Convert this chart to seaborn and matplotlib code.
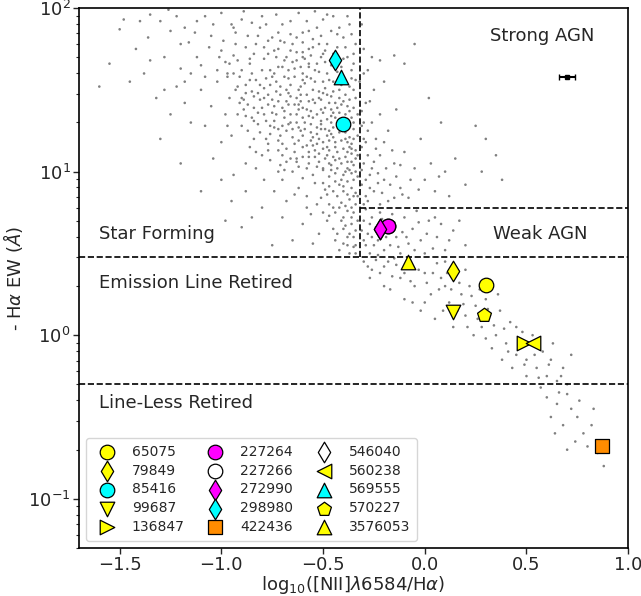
import matplotlib
matplotlib.use("Agg")
import matplotlib.pyplot as plt
import seaborn as sns
import numpy as np
import pandas as pd

# ---------------- background sample (x = log10 [NII]/Ha, y = log10 EW) ----------------
bg_pts = [
(-0.62,1.41),(-0.55,1.33),(-0.71,1.52),(-0.48,1.22),(-0.58,1.47),(-0.44,1.18),(-0.67,1.29),(-0.52,1.61),(-0.39,1.09),(-0.75,1.44),
(-0.61,1.25),(-0.46,1.38),(-0.83,1.56),(-0.57,1.12),(-0.42,1.45),(-0.69,1.37),(-0.51,1.29),(-0.64,1.63),(-0.37,1.21),(-0.78,1.31),
(-0.59,1.54),(-0.47,1.05),(-0.72,1.19),(-0.54,1.42),(-0.41,1.31),(-0.88,1.48),(-0.63,1.08),(-0.49,1.51),(-0.36,1.14),(-0.66,1.46),
(-0.53,1.17),(-0.8,1.39),(-0.45,1.27),(-0.6,1.33),(-0.38,1.02),(-0.74,1.6),(-0.56,1.24),(-0.43,1.39),(-0.68,1.14),(-0.5,1.36),
(-0.91,1.42),(-0.62,1.5),(-0.47,1.13),(-0.35,1.26),(-0.7,1.28),(-0.57,1.66),(-0.44,1.07),(-0.77,1.47),(-0.52,1.2),(-0.4,1.43),
(-0.65,1.21),(-0.55,1.5),(-0.85,1.33),(-0.48,1.32),(-0.36,1.17),(-0.61,1.43),(-0.73,1.35),(-0.5,1.01),(-0.42,1.24),(-0.59,1.3),
(-0.69,1.58),(-0.46,1.46),(-0.34,1.08),(-0.81,1.24),(-0.54,1.09),(-0.63,1.35),(-0.39,1.35),(-0.76,1.53),(-0.51,1.44),(-0.58,1.16),
(-0.45,1.55),(-0.67,1.41),(-0.37,1.29),(-0.87,1.41),(-0.53,1.27),(-0.6,1.6),(-0.43,1.12),(-0.72,1.26),(-0.49,1.39),(-0.35,1.04),
(-0.64,1.17),(-0.56,1.37),(-0.79,1.45),(-0.41,1.19),(-0.66,1.3),(-0.5,1.55),(-0.38,1.4),(-0.7,1.1),(-0.55,1.21),(-0.93,1.5),
(-0.46,1.23),(-0.62,1.27),(-0.4,0.98),(-0.74,1.4),(-0.52,1.49),(-0.57,1.05),(-0.44,1.33),(-0.68,1.5),(-0.36,1.33),(-0.82,1.36),
(-0.48,1.15),(-0.6,1.39),
(-1.05,1.83),(-0.95,1.9),(-0.88,1.76),(-0.8,1.95),(-0.72,1.85),(-0.65,1.78),(-0.58,1.92),(-0.5,1.72),(-0.46,1.86),(-1.12,1.7),
(-0.98,1.67),(-0.9,1.62),(-0.84,1.72),(-0.77,1.8),(-0.68,1.7),(-0.62,1.97),(-0.55,1.81),(-0.49,1.67),(-1.2,1.78),(-1.0,1.74),
(-0.93,1.85),(-0.86,1.66),(-0.74,1.74),(-0.7,1.9),(-0.6,1.73),(-0.53,1.88),(-0.43,1.76),(-1.08,1.95),(-1.15,1.6),(-0.97,1.58),
(-0.82,1.83),(-0.66,1.84),(-0.57,1.64),(-0.41,1.64),(-1.25,1.86),(-1.3,1.92),(-0.89,1.98),(-0.76,1.62),(-0.63,1.68),(-0.52,1.78),
(-0.45,1.95),(-0.38,1.7),(-0.4,1.82),(-1.02,1.62),(-0.94,1.71),(-0.79,1.69),(-0.7,1.64),(-0.6,1.85),(-0.48,1.6),(-0.36,1.57),
(-0.37,1.9),(-1.18,1.88),(-0.85,1.91),(-0.73,1.96),(-0.64,1.58),(-0.56,1.71),(-0.5,1.93),
(-1.5,1.87),(-1.42,1.75),(-1.35,1.96),(-1.55,1.66),(-1.38,1.6),(-1.28,1.7),(-1.22,1.52),(-1.32,1.45),(-1.45,1.55),(-1.18,1.42),
(-1.1,1.5),(-1.25,1.35),(-1.6,1.52),(-1.4,1.92),(-1.15,1.3),(-1.05,1.4),(-1.2,1.63),(-1.08,1.28),(-1.3,1.2),(-1.02,1.55),
(-1.13,1.85),(-1.48,1.93),(-1.26,1.99),(-1.36,1.82),
(-0.98,1.35),(-0.95,1.22),(-0.9,1.28),(-0.86,1.15),(-0.92,1.52),(-0.84,1.46),(-0.8,1.1),(-0.78,1.2),(-0.96,1.45),(-0.88,1.05),
(-1.0,1.18),(-0.83,1.02),(-0.76,1.07),(-0.94,0.98),(-1.04,1.08),(-0.89,1.38),(-0.81,1.53),(-0.97,1.6),(-0.87,1.25),(-0.79,0.95),
(-0.7,0.95),(-0.62,0.9),(-0.55,0.98),(-0.48,0.86),(-0.42,0.92),(-0.37,0.83),(-0.65,1.0),(-0.58,0.85),(-0.5,0.93),(-0.45,0.78),
(-0.4,0.88),(-0.35,0.95),(-0.68,0.82),(-0.53,0.8),(-0.44,0.99),(-0.38,0.76),(-0.34,0.87),(-0.6,0.96),(-0.47,0.91),(-0.41,0.81),
(-0.74,0.88),(-0.56,0.74),(-0.36,0.99),(-0.5,1.02),
(-0.4,0.72),(-0.36,0.68),(-0.45,0.65),(-0.38,0.6),(-0.34,0.55),(-0.42,0.52),(-0.35,0.75),(-0.48,0.7),(-0.37,0.5),(-0.52,0.62),
(-0.6,0.68),(-0.44,0.58),(-0.34,0.64),(-0.39,0.79),(-0.55,0.56),(-0.7,0.72),(-0.65,0.58),(-0.8,0.78),(-0.9,0.66),(-0.75,0.55),
(-1.0,0.95),(-0.95,0.82),(-1.1,0.88),(-0.85,0.72),(-0.98,0.7),(-1.2,1.05),(-0.88,0.88),
(-0.3,1.75),(-0.28,1.62),(-0.25,1.5),(-0.22,1.68),(-0.2,1.55),(-0.15,1.71),(-0.1,1.66),(-0.05,1.78),(-0.29,1.42),(-0.26,1.3),
(-0.24,1.2),(-0.31,1.15),(-0.3,1.05),(-0.27,0.98),(-0.22,1.1),(-0.18,1.25),(-0.2,0.95),(-0.15,1.05),(-0.12,0.9),(-0.25,0.88),
(-0.29,0.85),(-0.31,0.92),(-0.18,0.82),(-0.1,1.12),(-0.05,1.02),(0.0,0.95),(0.05,0.88),(-0.02,1.2),(0.1,1.0),(0.12,0.85),
(0.15,1.08),(0.2,0.92),(0.08,1.3),(-0.14,1.38),(0.02,1.45),(0.25,1.28),(0.3,1.2),(0.38,0.95),(-0.08,0.84),(-0.3,1.3),
(-0.32,1.55),(-0.31,1.9),(0.28,1.0),(0.35,1.1),(-0.28,1.1),(-0.26,1.02),(-0.23,0.93),(-0.3,0.8),
(-0.3,0.7),(-0.28,0.62),(-0.25,0.55),(-0.22,0.75),(-0.18,0.68),(-0.14,0.6),(-0.1,0.72),(-0.06,0.65),(-0.02,0.58),(0.02,0.7),
(0.06,0.6),(0.1,0.52),(-0.27,0.5),(-0.2,0.52),(-0.12,0.5),(-0.3,0.58),(-0.24,0.66),(-0.16,0.74),(-0.08,0.56),(0.0,0.5),
(0.14,0.64),(0.2,0.55),(-0.26,0.72),(-0.19,0.6),(-0.04,0.76),(0.04,0.53),(-0.29,0.77),(-0.11,0.63),(-0.23,0.49),(0.08,0.68),
(-0.28,0.42),(-0.22,0.38),(-0.18,0.45),(-0.12,0.35),(-0.08,0.42),(-0.05,0.3),(0.0,0.38),(0.03,0.25),(0.06,0.44),(0.1,0.3),
(0.12,0.2),(0.15,0.36),(0.18,0.25),(0.2,0.12),(0.22,0.3),(0.25,0.18),(0.28,0.05),(0.3,0.22),(0.32,0.12),(0.35,0.0),
(0.37,0.15),(0.4,-0.05),(0.42,0.08),(0.45,-0.12),(0.48,0.02),(0.5,-0.15),(0.52,-0.05),(0.55,-0.2),(0.58,-0.1),(0.6,-0.25),
(0.62,-0.15),(0.65,-0.28),(0.68,-0.2),(0.7,-0.3),(-0.2,0.3),(-0.1,0.22),(-0.02,0.15),(0.05,0.1),(0.08,0.35),(0.14,0.05),
(0.24,0.0),(0.33,-0.08),(0.38,-0.15),(0.45,0.05),(0.5,-0.25),(0.57,-0.32),(0.63,-0.05),(0.72,-0.12),(0.2,0.4),(0.1,0.45),
(-0.15,0.47),(0.27,0.28),(0.36,0.25),(0.16,0.15),(-0.06,0.2),(0.43,-0.2),(0.53,0.0),(0.66,-0.35),
(0.6,-0.38),(0.65,-0.42),(0.7,-0.36),(0.62,-0.5),(0.72,-0.45),(0.68,-0.55),(0.75,-0.5),(0.78,-0.6),(0.8,-0.68),(0.85,-0.72),
(0.82,-0.55),(0.74,-0.65),(0.88,-0.8),(0.7,-0.7),(0.64,-0.6),(0.76,-0.4),(0.83,-0.45),
(-0.58,1.38),(-0.51,1.26),(-0.44,1.15),(-0.39,1.24),(-0.36,1.11),(-0.47,1.42),(-0.63,1.45),(-0.55,1.16),(-0.41,1.05),(-0.38,1.18),
(-0.49,1.08),(-0.53,1.35),(-0.6,1.22),(-0.66,1.35),(-0.72,1.43),(-0.45,1.36),(-0.4,1.28),(-0.35,1.2),(-0.43,1.02),(-0.5,1.18),
(-0.56,1.29),(-0.62,1.19),(-0.68,1.25),(-0.74,1.31),(-0.48,1.47),(-0.42,1.5),(-0.37,1.37),(-0.34,1.13),(-0.52,1.11),(-0.58,1.02),
(-0.64,1.12),(-0.7,1.17),(-0.76,1.23),(-0.46,1.01),(-0.4,1.14),(-0.36,1.06),(-0.54,1.55),(-0.6,1.56),(-0.66,1.53),(-0.71,1.47),
(-0.44,1.42),(-0.39,1.47),(-0.35,1.39),(-0.47,1.19),(-0.51,1.38),(-0.57,1.43),(-0.63,1.3),(-0.69,1.33),(-0.75,1.36),(-0.81,1.44),
(-0.43,1.28),(-0.38,1.06),(-0.34,1.0),(-0.49,1.26),(-0.55,1.44),(-0.61,1.47),(-0.67,1.57),(-0.73,1.49),(-0.79,1.51),(-0.85,1.49),
(-0.42,1.36),(-0.37,1.15),(-0.45,1.09),(-0.5,1.14),(-0.56,1.19),(-0.62,1.03),(-0.68,1.06),(-0.53,1.03),(-0.47,0.97),(-0.41,0.95),
(-0.36,0.9),(-0.39,1.0),(-0.44,0.94),(-0.35,1.3),(-0.46,1.3),(-0.52,1.45),(-0.58,1.58),(-0.64,1.41),(-0.7,1.39),(-0.76,1.28),
(-0.82,1.29),(-0.88,1.34),(-0.9,1.45),(-0.84,1.39),(-0.78,1.57),(-0.72,1.64),(-0.65,1.67),(-0.59,1.69),(-0.53,1.66),(-0.47,1.56),
(-0.41,1.58),(-0.37,1.52),(-0.34,1.45),(-0.43,1.61),(-0.49,1.74),(-0.55,1.76),(-0.61,1.64),(-0.67,1.62),(-0.73,1.7),(-0.79,1.76),
(-0.85,1.6),(-0.91,1.58),(-0.96,1.66),(-1.01,1.7),(-0.93,1.78),(-0.87,1.83),(-0.81,1.88),(-0.75,1.82),(-0.69,1.79),(-0.63,1.82),
(-0.57,1.86),(-0.51,1.83),(-0.45,1.72),(-0.39,1.76),(-0.35,1.66),(-0.42,1.88),(-0.48,1.96),(-0.54,1.98),(-0.66,1.92),(-0.78,1.9),
(-0.9,1.93),(-0.99,1.8),(-1.06,1.76),(-1.1,1.65),(-1.04,1.9),(-1.16,1.79),(-0.86,1.56),(-0.92,1.35),(-0.97,1.28),(-0.84,1.2),
(-0.77,1.13),(-0.71,1.04),(-0.6,1.09),(-0.54,0.93),(-0.49,0.89),(-0.43,0.85),(-0.38,0.94),(-0.34,0.8),(-0.36,0.72),(-0.4,0.65),
(-0.47,0.8),(-0.58,0.78),(-0.64,0.86),(-0.72,1.0),(-0.35,0.6),(-0.38,0.55),(-0.41,0.7),(-0.44,0.75),(-0.5,0.75),(-0.34,0.5),
(-1.0,1.97),(-0.94,1.88),(-1.12,1.92),(-1.22,1.95),(-1.08,1.58),(-1.18,1.55),(-1.28,1.5),(-1.35,1.68),(-0.72,1.75),(-0.6,1.79),
(-0.86,1.69),(-0.8,1.62),(-0.75,1.58),(-0.69,1.68),(-0.63,1.73),(-0.57,1.75),(-0.51,1.7),(-0.46,1.65),(-0.4,1.69),(-0.36,1.62),
(-0.83,1.78),(-0.77,1.72),(-0.71,1.8),(-0.66,1.74),(-0.6,1.7),(-0.54,1.62),(-0.48,1.78),(-0.43,1.84),(-0.38,1.95),(-0.34,1.78),
(-0.92,1.68),(-0.88,1.53),(-0.82,1.48),(-0.77,1.41),(-0.73,1.55),(-0.67,1.48),(-0.61,1.52),(-0.56,1.57),(-0.5,1.48),(-0.45,1.49),
(-0.41,1.53),(-0.35,1.5),(-0.94,1.6),(-0.89,1.44),(-0.84,1.31),(-0.79,1.35),(-0.74,1.27),(-0.68,1.43),(-0.62,1.38),(-0.57,1.34),
(-0.51,1.31),(-0.46,1.34),(-0.41,1.41),(-0.37,1.44),(-0.33,1.35),(-0.33,1.22),(-0.33,1.1),(-0.33,0.97),(-0.33,0.85),(-0.33,0.7),
(-0.34,1.56),(-0.35,1.72),(-0.36,1.84),(-0.39,1.56),(-0.42,1.68),(-0.47,1.25),(-0.53,1.23),(-0.59,1.26),(-0.65,1.26),(-0.71,1.22),
(-0.77,1.17),(-0.83,1.12),(-0.48,1.1),(-0.54,1.13),(-0.6,1.15),(-0.66,1.08),(-0.72,1.13),(-0.45,1.21),(-0.39,1.2),(-0.38,1.12),
(-0.42,1.08),(-0.46,1.04),(-0.52,1.06),(-0.57,1.09),(-0.63,1.06),(-0.69,1.01),(-0.37,1.01),(-0.4,0.91),(-0.45,0.88),(-0.51,0.84),
(-0.35,0.85),(-0.38,0.86),(-0.42,0.78),(-0.47,0.73),(-0.36,0.78),(-0.39,0.67),(-0.43,0.62),(-0.37,0.62),(-0.35,0.54),(-0.4,0.56),
(-0.31,1.01),(-0.29,0.95),(-0.27,0.9),(-0.25,1.06),(-0.23,0.99),(-0.21,0.87),(-0.19,1.02),(-0.17,0.92),(-0.14,0.97),(-0.11,0.86),
(-0.3,1.2),(-0.28,1.25),(-0.24,1.14),(-0.2,1.18),(-0.16,1.13),(-0.12,1.04),(-0.07,0.95),(-0.03,0.89),(0.03,1.05),(0.07,0.97),
(-0.31,1.37),(-0.27,1.43),(-0.22,1.35),(-0.3,1.6),(-0.26,1.7),(-0.31,1.28),(-0.29,1.18),(-0.28,0.82),(-0.22,0.8),(-0.15,0.84),
(-0.31,0.64),(-0.29,0.55),(-0.27,0.68),(-0.26,0.6),(-0.23,0.58),(-0.21,0.71),(-0.17,0.55),(-0.15,0.69),(-0.13,0.54),(-0.09,0.6),
(-0.05,0.52),(-0.03,0.69),(0.01,0.62),(0.05,0.72),(0.12,0.58),(0.17,0.7),
(-0.3,0.45),(-0.26,0.4),(-0.24,0.46),(-0.2,0.42),(-0.16,0.36),(-0.14,0.43),(-0.1,0.38),(-0.07,0.33),(-0.03,0.4),(0.01,0.32),
(0.04,0.38),(0.07,0.28),(0.11,0.38),(0.13,0.28),(0.17,0.32),(0.19,0.19),(0.23,0.24),(0.26,0.1),(0.31,0.16),(0.34,0.06),
(0.39,0.04),(0.41,-0.1),(0.46,-0.06),(0.49,-0.18),(0.54,-0.12),(0.56,-0.26),(0.61,-0.18),(0.67,-0.25),(-0.27,0.35),(-0.17,0.28),
(0.0,0.2),(0.09,0.15),(0.21,0.05),(0.3,-0.02),
]
bg_x = [p[0] for p in bg_pts]
bg_logew = [p[1] for p in bg_pts]

# ---------------- highlighted galaxies ----------------
gal_ids = ["65075", "79849", "85416", "99687", "136847",
           "227264", "227266", "272990", "298980", "422436",
           "546040", "560238", "569555", "570227", "3576053"]
gal_x = [0.30, 0.14, -0.40, 0.14, 0.49,
         -0.18, -0.18, -0.22, -0.44, 0.87,
         -0.22, 0.53, -0.41, 0.29, -0.08]
gal_ew = [2.03, 2.47, 19.5, 1.38, 0.90,
          4.65, 4.65, 4.45, 48.0, 0.21,
          4.45, 0.90, 38.0, 1.32, 2.80]
gal_marker = ["o", "d", "o", "v", ">",
              "o", "o", "d", "d", "s",
              "d", "<", "^", "p", "^"]
gal_color = ["yellow", "yellow", "cyan", "yellow", "yellow",
             "magenta", "white", "magenta", "cyan", "darkorange",
             "white", "yellow", "cyan", "yellow", "yellow"]

# typical error bar
err_x, err_ew, err_dx = [0.70], [38.0], [0.04]

region_labels = ["Strong AGN", "Weak AGN", "Star Forming", "Emission Line Retired", "Line-Less Retired"]

sns.set_style("ticks")
plt.rcParams["font.family"] = ["DejaVu Sans"]
plt.rcParams["mathtext.fontset"] = "dejavusans"

fig = plt.figure(figsize=(6.41, 5.96), dpi=100)
ax = fig.add_axes([0.1232, 0.0805, 0.8568, 0.906])

bg = pd.DataFrame({"x": bg_x, "ew": [10 ** v for v in bg_logew]})
sns.scatterplot(data=bg, x="x", y="ew", ax=ax, s=3.5, color="grey", edgecolor="none",
                linewidth=0, legend=False, zorder=1)

# demarcation lines
vline_x = -0.32
ax.plot([vline_x, vline_x], [3, 100], ls="--", color="k", lw=1.2, zorder=2)
ax.plot([vline_x, 1.0], [6, 6], ls="--", color="k", lw=1.2, zorder=2)
ax.axhline(3, ls="--", color="k", lw=1.2, zorder=2)
ax.axhline(0.5, ls="--", color="k", lw=1.2, zorder=2)

ax.errorbar(err_x, err_ew, xerr=err_dx, fmt="s", color="k", ms=3, capsize=2, lw=1.5, zorder=3)

draw_order = [6, 10] + [i for i in range(len(gal_ids)) if i not in (6, 10)]
for i in draw_order:
    d = pd.DataFrame({"x": [gal_x[i]], "ew": [gal_ew[i]]})
    sns.scatterplot(data=d, x="x", y="ew", ax=ax, marker=gal_marker[i], s=110,
                    color=gal_color[i], edgecolor="k", linewidth=0.9, label=gal_ids[i],
                    zorder=4)

ax.set_yscale("log")
ax.set_xlim(-1.7, 1.0)
ax.set_ylim(0.05, 100)

fs = 13
ax.text(0.576, 67.5, region_labels[0], fontsize=fs, ha="center", va="center")
ax.text(0.57, 4.15, region_labels[1], fontsize=fs, ha="center", va="center")
ax.text(-1.6, 4.15, region_labels[2], fontsize=fs, ha="left", va="center")
ax.text(-1.6, 2.08, region_labels[3], fontsize=fs, ha="left", va="center")
ax.text(-1.6, 0.384, region_labels[4], fontsize=fs, ha="left", va="center")

ax.set_xlabel(r"log$_{10}$([NII]$\lambda$6584/H$\alpha$)", fontsize=13, labelpad=0)
ax.set_ylabel(r"- H$\alpha$ EW ($\AA$)", fontsize=13, labelpad=2)
ax.tick_params(axis="both", which="major", labelsize=13, direction="out", length=4, width=1, pad=2)
ax.tick_params(axis="y", which="minor", direction="out", length=2.5, width=0.8)
for sp in ax.spines.values():
    sp.set_linewidth(1.2)
    sp.set_color("k")

h, l = ax.get_legend_handles_labels()
order = [l.index(g) for g in gal_ids]
ax.legend([h[k] for k in order], [l[k] for k in order], ncol=3, loc="lower left",
          fontsize=10, frameon=True, framealpha=0.8, edgecolor="0.8", fancybox=True,
          columnspacing=1.2, handletextpad=0.8, labelspacing=0.35, borderpad=0.5)

fig.savefig("out.png", dpi=100)
